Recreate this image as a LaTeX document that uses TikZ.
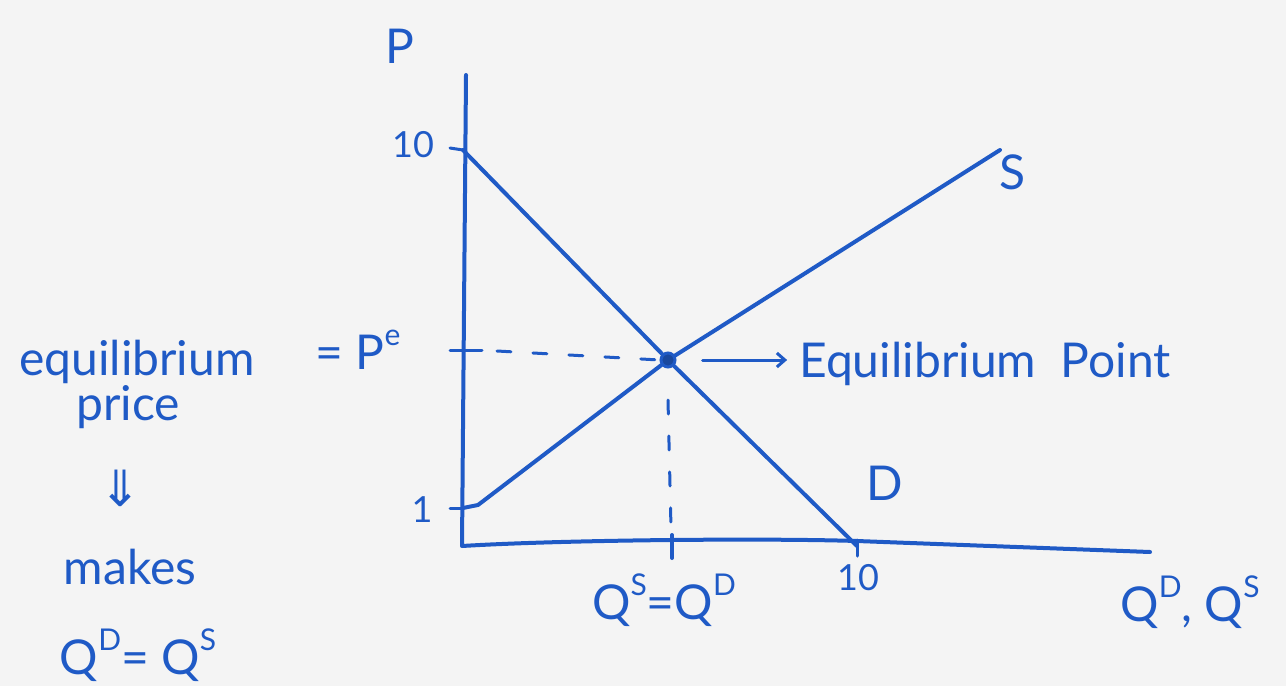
\documentclass[tikz,border=0pt]{standalone}
\usepackage{fontspec}
\setmainfont{Lato}
\newfontfamily\symfont{DejaVu Sans}
\usetikzlibrary{arrows.meta}
\definecolor{ink}{HTML}{1F5AC6}
\definecolor{paper}{HTML}{F4F4F4}
\newcommand{\hsup}[1]{\raisebox{0.5em}{\fontsize{30}{30}\selectfont #1}}
\begin{document}
\begin{tikzpicture}[x=1pt,y=-1pt,
  pen/.style={draw=ink,line width=4pt,line cap=round,line join=round},
  dashpen/.style={pen,line width=3pt,dash pattern=on 14pt off 22pt},
  lbl/.style={text=ink,inner sep=0pt,font=\fontsize{48}{54}\selectfont},
  biglbl/.style={text=ink,inner sep=0pt,font=\fontsize{48}{54}\selectfont},
  numlbl/.style={text=ink,inner sep=0pt,font=\fontsize{36}{40}\selectfont},
  eqpt/.style={circle,draw=ink,fill=ink!80!black,line width=3pt,minimum size=14pt,inner sep=0pt}]
\fill[paper] (0,0) rectangle (1286,686);
\useasboundingbox (0,0) rectangle (1286,686);
% axes
\coordinate (O) at (462,546);
\coordinate (Ytop) at (466,75);
\coordinate (Xend) at (1150,552);
\draw[pen] (Ytop) -- (O) .. controls (560,540) and (760,538) .. (857,541) -- (Xend);
% curves
\coordinate (D0) at (463,150);
\coordinate (D1) at (857,546);
\coordinate (S0) at (463,508);
\coordinate (S1) at (1000,150);
\node[eqpt] (E) at (668,360) {};
\draw[pen] (D0) -- (E) -- (D1);
\draw[pen] (S0) -- (478,505) -- (E) -- (S1);
% ticks
\coordinate (t10a) at (450,148);
\coordinate (tPa) at (450,350);
\coordinate (tPb) at (482,350);
\coordinate (t1a) at (450,508);
\coordinate (tQa) at (672,535);
\coordinate (tQb) at (672,558);
\coordinate (tXa) at (857,540);
\coordinate (tXb) at (857,556);
\draw[pen,line width=3pt] (t10a) -- (D0);
\draw[pen,line width=3pt] (tPa) -- (tPb);
\draw[pen,line width=3pt] (t1a) -- (S0);
\draw[pen] (tQa) -- (tQb);
\draw[pen,line width=3pt] (tXa) -- (tXb);
% dashed guides
\coordinate (hd) at (497,351);
\coordinate (vs) at (668,400);
\coordinate (vd) at (671,528);
\draw[dashpen] (hd) -- (E.west);
\draw[dashpen] (vs) -- (vd);
% labels
\node[biglbl] (P) at (400,46) {P};
\node[numlbl] (l10) at (413,145) {10};
\node[numlbl] (l1) at (422,510) {1};
\node[numlbl] (x10) at (858,578) {10};
\node[biglbl] (Pe) at (358,350) {= P\hsup{e}};
\node[lbl] (eq1) at (137,362) {equilibrium};
\node[lbl] (eq2) at (128,407) {price};
\node[text=ink,inner sep=0pt,font=\symfont\fontsize{50}{56}\selectfont] (dar) at (120,488) {⇓};
\node[lbl] (mk) at (130,567) {makes};
\node[biglbl] (qq) at (138,655) {Q\hsup{D}= Q\hsup{S}};
\node[lbl] (eqlab) at (985,364) {Equilibrium\ \ Point};
\draw[pen,line width=3pt,-{Straight Barb[length=8pt,width=14pt]},shorten <=26pt,shorten >=12pt] (E) -- (eqlab.west |- E);
\node[biglbl] (Dl) at (885,483) {D};
\node[biglbl] (Sl) at (1013,172) {S};
\node[biglbl] (qsqd) at (664,600) {Q\hsup{S}=Q\hsup{D}};
\node[biglbl] (ax) at (1190,602) {Q\hsup{D}, Q\hsup{S}};
\end{tikzpicture}
\end{document}
